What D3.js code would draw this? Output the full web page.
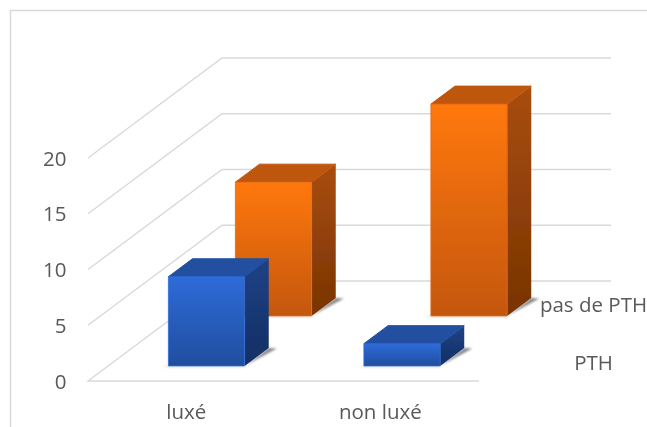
<!DOCTYPE html>
<html><head><meta charset="utf-8">
<script src="https://cdn.jsdelivr.net/npm/d3@7"></script>
<style>html,body{margin:0;padding:0;background:#fff;overflow:hidden}svg{display:block}text{font-family:"Open Sans",Lato,sans-serif;fill:#595959}</style>
</head><body><svg id="c" width="647" height="427"></svg>
<script>
const categories = ["luxé", "non luxé"];
const series = ["PTH", "pas de PTH"];
const valuesPTH = [8, 2];
const valuesPasDePTH = [12, 19];
const yTicks = [0, 5, 10, 15, 20];

const svg = d3.select("#c");
const defs = svg.append("defs");
const W = 647, H = 427;
const x0 = 88, x1 = 479, floorY = 381, depthDX = 134, depthDY = -100;

const y = d3.scaleLinear().domain([0, 20]).range([0, 223]);
const x = d3.scaleBand().domain(categories).range([x0, x1]).paddingInner(0.61).paddingOuter(0.305).align(0.505);
const z = d3.scaleBand().domain(series).range([0, 1]).paddingInner(0.64).paddingOuter(0.32).align(0.47);
const labelY = d3.scalePoint().domain(series).range([369.5, 312]);

// project (category position, value height, depth 0..1) into the picture
const P = (px, v, t) => [px + t * depthDX, floorY - y(v) + t * depthDY];
const line = d3.line();
const poly = pts => line(pts) + "Z";

function grad(id, c0, c1) {
  const g = defs.append("linearGradient").attr("id", id).attr("x1", 0).attr("y1", 0).attr("x2", 0).attr("y2", 1);
  g.append("stop").attr("offset", "0%").attr("stop-color", c0);
  g.append("stop").attr("offset", "100%").attr("stop-color", c1);
}
grad("oF", "#ff7811", "#c4570d");
grad("oS", "#a94d0b", "#783404");
grad("bF", "#2f6bd9", "#1f4e9e");
grad("bS", "#1e4286", "#132e63");
const soft = defs.append("filter").attr("id", "soft").attr("x", "-10%").attr("y", "-10%").attr("width", "120%").attr("height", "120%");
soft.append("feGaussianBlur").attr("stdDeviation", 0.45);
const sh = defs.append("filter").attr("id", "sh").attr("x", "-30%").attr("y", "-30%").attr("width", "160%").attr("height", "160%");
sh.append("feGaussianBlur").attr("stdDeviation", 0.9);

const faces = {
  "PTH": { front: "url(#bF)", side: "url(#bS)", top: "#21509f", edge: "#2f6bd9", values: valuesPTH },
  "pas de PTH": { front: "url(#oF)", side: "url(#oS)", top: "#bf570b", edge: "#e5690f", values: valuesPasDePTH }
};

// chart frame: only top and left edges fall inside the picture
svg.append("path").attr("d", line([[10.5, H], [10.5, 10.5], [W, 10.5]]))
  .attr("fill", "none").attr("stroke", "#d9d9d9").attr("stroke-width", 1.5);

const grid = svg.append("g").attr("fill", "none").attr("stroke", "#d9d9d9").attr("stroke-width", 1.4);
yTicks.forEach(t => {
  if (t === 0) {
    grid.append("path").attr("d", line([P(x1, 0, 0), P(x0, 0, 0), P(x0, 0, 1), P(611 - depthDX, 0, 1)]));
  } else {
    grid.append("path").attr("d", line([P(x0, t, 0), P(x0, t, 1), P(611 - depthDX, t, 1)]));
  }
});

const marks = svg.append("g").attr("filter", "url(#soft)");
[...series].reverse().forEach(s => {
  const f = faces[s];
  categories.forEach((c, i) => {
    const v = f.values[i];
    const a = x(c), b = a + x.bandwidth(), t0 = z(s), t1 = t0 + z.bandwidth();
    const fr = P(b, 0, t0), bk = P(b, 0, t1), fl = P(a, 0, t0);
    const shadow = marks.append("g").attr("filter", "url(#sh)").attr("fill", "#8a8a8a");
    shadow.append("path").attr("d", poly([[fl[0] - 6, fl[1] + 0.5], fl, fr, [fr[0], fr[1] + 0.5]]));
    shadow.append("path").attr("d", poly([fr, [bk[0] + 8, bk[1] + 0.5], bk]));
    marks.append("path").attr("fill", f.side).attr("d", poly([P(b, 0, t0), P(b, v, t0), P(b, v, t1), P(b, 0, t1)]));
    marks.append("path").attr("fill", f.top).attr("stroke", f.top).attr("stroke-linejoin", "round").attr("stroke-width", 1)
      .attr("d", poly([P(a, v, t0), P(b, v, t0), P(b, v, t1), P(a, v, t1)]));
    marks.append("path").attr("fill", f.front).attr("stroke", f.edge).attr("stroke-width", 0.8).attr("stroke-linejoin", "round")
      .attr("d", poly([P(a, 0, t0), P(a, v, t0), P(b, v, t0), P(b, 0, t0)]));
  });
});

const fs = 20.5;
svg.append("g").selectAll("text").data(yTicks).join("text")
  .attr("x", 66.5).attr("y", d => P(x0, d, 0)[1] + 7.5).attr("text-anchor", "end").attr("font-size", fs).text(d => d);
svg.append("g").selectAll("text").data(categories).join("text")
  .attr("x", d => x(d) + x.bandwidth() / 2 - (d === categories[0] ? 0 : 1.5)).attr("y", 418.5).attr("text-anchor", "middle").attr("font-size", fs).text(d => d);
svg.append("g").selectAll("text").data(series).join("text")
  .attr("x", 593.5).attr("y", d => labelY(d)).attr("text-anchor", "middle").attr("font-size", fs).text(d => d);
</script></body></html>
